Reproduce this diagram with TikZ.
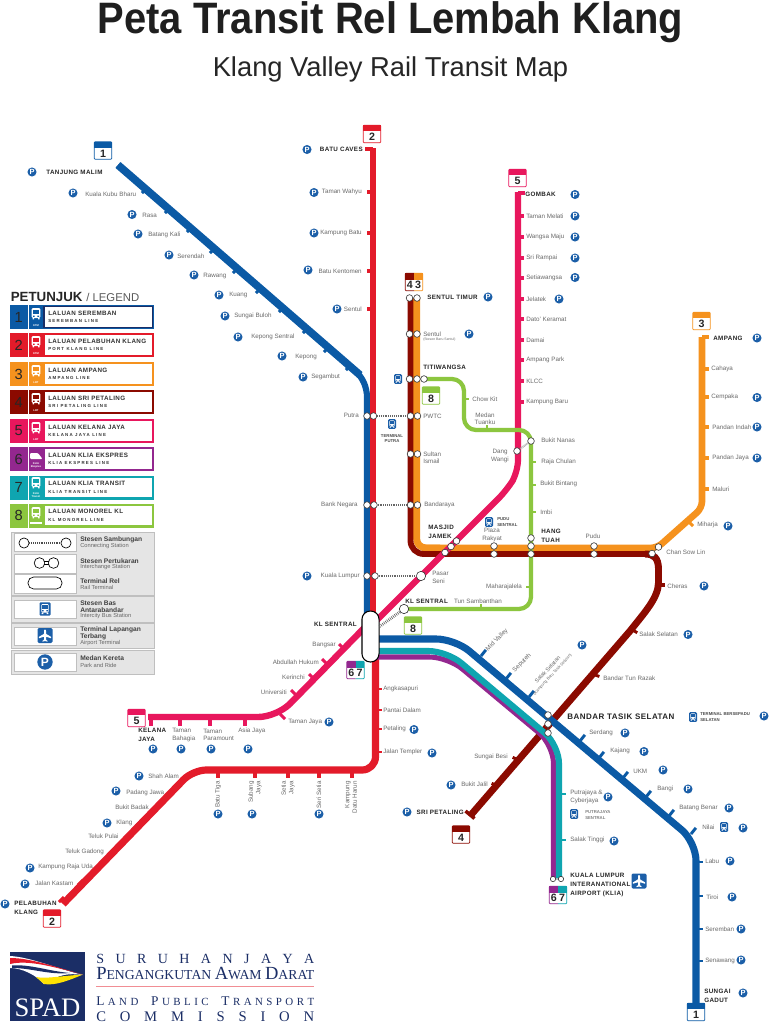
\documentclass[tikz,border=0pt]{standalone}
\usepackage{fontspec}
\setmainfont{Liberation Sans}
\newfontfamily\spc[LetterSpace=6]{Liberation Sans}
\newfontfamily\spcw[LetterSpace=28]{Liberation Sans}
\newfontfamily\logof{Liberation Serif}
\definecolor{ktm}{HTML}{0B5AA5}
\definecolor{red2}{HTML}{E31B2A}
\definecolor{pink5}{HTML}{E8175D}
\definecolor{org3}{HTML}{F5921E}
\definecolor{mar4}{HTML}{8B0A00}
\definecolor{pur6}{HTML}{93278F}
\definecolor{tea7}{HTML}{0FA5B0}
\definecolor{grn8}{HTML}{8CC63F}
\definecolor{pblue}{HTML}{1C5FA8}
\definecolor{navy}{HTML}{1B2E66}
\definecolor{stgray}{HTML}{6A6A6A}
\newcounter{nn}
\tikzset{
 stlabel/.style={inner sep=0pt,text=stgray,font=\fontsize{4.7}{5.6}\selectfont},
 boldlabel/.style={inner sep=0pt,text=black!85,font=\fontsize{4.7}{6.6}\selectfont\bfseries\spc},
 tinylabel/.style={inner sep=0pt,text=black!70,font=\fontsize{3.2}{4}\selectfont\bfseries},
 parkicon/.style={circle,fill=pblue,text=white,inner sep=0pt,minimum size=6.8pt,font=\fontsize{5.6}{5.6}\selectfont\bfseries},
 stationdot/.style={circle,draw=black!80,fill=white,line width=.45pt,inner sep=0pt,minimum size=5pt},
 bigdot/.style={stationdot,minimum size=7pt},
 smalldot/.style={stationdot,minimum size=4pt},
 linkline/.style={draw=black!70,line width=.5pt},
 dotlink/.style={draw=black!60,line width=2.2pt,dash pattern=on .5pt off .9pt},
 route/.style={line cap=butt,line join=round,rounded corners=#1},
 route/.default=8pt
}
% text helpers
\newcommand\sL[3]{\stepcounter{nn}\node[stlabel,anchor=west,align=left] (n\arabic{nn}) at (#1,#2) {#3};}
\newcommand\sR[3]{\stepcounter{nn}\node[stlabel,anchor=east,align=right] (n\arabic{nn}) at (#1,#2) {#3};}
\newcommand\sC[3]{\stepcounter{nn}\node[stlabel,align=center] (n\arabic{nn}) at (#1,#2) {#3};}
\newcommand\sV[3]{\stepcounter{nn}\node[stlabel,anchor=east,align=right,rotate=90] (n\arabic{nn}) at (#1,#2) {#3};}
\newcommand\sA[4]{\stepcounter{nn}\node[stlabel,rotate=#4,align=center] (n\arabic{nn}) at (#1,#2) {#3};}
\newcommand\bL[3]{\stepcounter{nn}\node[boldlabel,anchor=west,align=left] (n\arabic{nn}) at (#1,#2) {#3};}
\newcommand\bR[3]{\stepcounter{nn}\node[boldlabel,anchor=east,align=right] (n\arabic{nn}) at (#1,#2) {#3};}
\newcommand\pk[2]{\stepcounter{nn}\node[parkicon] (n\arabic{nn}) at (#1,#2) {P};}
\newcommand\tk[5]{\draw[#1,line width=2.2pt,shorten <=-1.1pt] (#2,#3) -- (#4,#5);}
\newcommand\busic[3]{\begin{scope}[shift={(#1,#2)},scale=#3]
 \fill[pblue,rounded corners=.8pt] (-5,-6) rectangle (5,6);
 \fill[white,rounded corners=.8pt] (-3.4,-4.4) rectangle (3.4,3.2);
 \fill[pblue] (-2.5,-3.2) rectangle (2.5,-.2);
 \fill[pblue] (-2.6,1) rectangle (-1.2,2.1) (1.2,1) rectangle (2.6,2.1);
 \fill[white] (-3,3.2) rectangle (-1.5,4.6) (1.5,3.2) rectangle (3,4.6);
 \end{scope}}
\newcommand\planeic[3]{\begin{scope}[shift={(#1,#2)},scale=#3]
 \fill[pblue,rounded corners=1pt] (-7.5,-7.5) rectangle (7.5,7.5);
 \fill[white,rounded corners=.3pt] (0,-6.3) -- (1,-5) -- (1,-1.6) -- (6.2,1.4) -- (6.2,2.8) -- (1,1.2) -- (1,4.2) -- (2.6,5.4) -- (2.6,6.2) -- (0,5.5) -- (-2.6,6.2) -- (-2.6,5.4) -- (-1,4.2) -- (-1,1.2) -- (-6.2,2.8) -- (-6.2,1.4) -- (-1,-1.6) -- (-1,-5) -- cycle;
 \end{scope}}
% single colour badge
\newcommand\badge[4]{\begin{scope}[shift={(#1,#2)}]
 \fill[white,rounded corners=.6pt] (-8.7,-8.7) rectangle (8.7,8.7);
 \fill[#3] (-8.7,-8.7) rectangle (8.7,-2.6);
 \draw[#3,line width=.6pt,rounded corners=.6pt] (-8.7,-8.7) rectangle (8.7,8.7);
 \stepcounter{nn}\node[inner sep=0pt,font=\fontsize{8}{8}\selectfont\bfseries,text=black!85] (n\arabic{nn}) at (0,3.1) {#4};
 \end{scope}}
\newcommand\twobadge[6]{\begin{scope}[shift={(#1,#2)}]
 \fill[white] (-8.7,-8.7) rectangle (8.7,8.7);
 \fill[#3] (-8.7,-8.7) rectangle (0,-2.2);
 \fill[#4] (0,-8.7) rectangle (8.7,-2.2);
 \draw[#3,line width=.6pt,rounded corners=.6pt] (0,8.7) -- (-8.7,8.7) -- (-8.7,-8.7) -- (0,-8.7);
 \draw[#4,line width=.6pt,rounded corners=.6pt] (0,8.7) -- (8.7,8.7) -- (8.7,-8.7) -- (0,-8.7);
 \stepcounter{nn}\node[inner sep=0pt,font=\fontsize{8}{8}\selectfont\bfseries,text=black!85] (n\arabic{nn}) at (-4.2,3.1) {#5};
 \stepcounter{nn}\node[inner sep=0pt,font=\fontsize{8}{8}\selectfont\bfseries,text=black!85] (n\arabic{nn}) at (4.2,3.1) {#6};
 \end{scope}}
% legend rows: y-top, colour, inner frame colour, number, title, subtitle
\newcommand\legrow[6]{\begin{scope}[shift={(0,#1)}]
 \fill[#2] (10,0) rectangle (27.6,24);
 \fill[#2] (29,0) rectangle (154.4,24);
 \fill[#3] (43.4,1) rectangle (153,23);
 \fill[white] (44.8,2.2) rectangle (151.6,21.8);
 \stepcounter{nn}\node[inner sep=0pt,font=\fontsize{11}{11}\selectfont,text=black!85] (n\arabic{nn}) at (18.8,12) {#4};
 \stepcounter{nn}\node[inner sep=0pt,anchor=west,font=\fontsize{4.7}{4.7}\selectfont\bfseries\spc,text=black!80] (n\arabic{nn}) at (48,8.2) {#5};
 \stepcounter{nn}\node[inner sep=0pt,anchor=west,font=\fontsize{3.3}{3.3}\selectfont\bfseries\spcw,text=black!80] (n\arabic{nn}) at (48,16.4) {#6};
 \end{scope}}
\newcommand\trainic[3]{\begin{scope}[shift={(#1,#2)}]
 \fill[white,rounded corners=1pt] (-4.4,-7) rectangle (4.4,3);
 \fill[#3] (-3.2,-4.8) rectangle (3.2,-1);
 \fill[#3] (-3,.6) rectangle (-1.4,1.8) (1.4,.6) rectangle (3,1.8);
 \fill[white] (-3.5,3) rectangle (-2,4.4) (2,3) rectangle (3.5,4.4);
 \end{scope}}
\newcommand\iclabel[3]{\stepcounter{nn}\node[inner sep=0pt,text=white,align=center,font=\fontsize{2}{2.2}\selectfont\bfseries] (n\arabic{nn}) at (#1,#2) {#3};}
\begin{document}
\begin{tikzpicture}[x=.75pt,y=-.75pt]
\useasboundingbox (0,0) rectangle (768,1024);
\fill[white] (0,0) rectangle (768,1024);
% title
\node[inner sep=0pt,anchor=base,text=black!88,font=\fontsize{33}{33}\selectfont\bfseries] (title) at (390.5,34) {\scalebox{.907}[1]{Peta Transit Rel Lembah Klang}};
\node[inner sep=0pt,anchor=base,text=black!85,font=\fontsize{20.5}{20.5}\selectfont] (subtitle) at (390.5,76) {Klang Valley Rail Transit Map};

% ---------- routes ----------
% KTM Seremban upper
\draw[ktm,line width=4.6pt,route=5pt] (118,165) -- (361,376) -- (367,390) -- (367,625);
\draw[ktm,line width=5.8pt] (118,165) -- (360,375);
% ticks line 1
\tk{ktm}{143}{192}{147}{188}\tk{ktm}{166}{212}{170}{208}\tk{ktm}{188}{231}{192}{227}\tk{ktm}{211}{252}{215}{248}\tk{ktm}{234}{272}{238}{268}\tk{ktm}{257}{292}{261}{288}\tk{ktm}{280}{311}{284}{307}\tk{ktm}{304}{332}{308}{328}\tk{ktm}{325}{351}{329}{347}\tk{ktm}{347}{369}{351}{365}
% Port Klang
\draw[red2,line width=5pt] (373,148) -- (373,625);
\draw[red2,line width=2.4pt] (365,149) -- (373,149);
\foreach \yy in {192,233,271,309}{\draw[red2,line width=2.4pt] (367,\yy) -- (373,\yy);}
\draw[red2,line width=5.4pt,route=10pt] (375.5,655) -- (375.5,770) -- (193,770) -- (63,904);
\foreach \yy in {689,710,729,752}{\draw[red2,line width=2pt] (375,\yy) -- (382,\yy);}
\foreach \xx in {218,255,288,319,352}{\draw[red2,line width=2.4pt] (\xx,770) -- (\xx,778);}
\tk{red2}{183}{780}{187}{776}\tk{red2}{168}{794}{172}{790}\tk{red2}{153}{809}{157}{805}\tk{red2}{137}{825}{141}{821}\tk{red2}{124}{840}{128}{836}\tk{red2}{109}{854}{113}{850}\tk{red2}{95}{869}{99}{865}\tk{red2}{79}{884}{83}{880}\tk{red2}{60}{901}{64}{897}
% Ampang
\draw[org3,line width=5pt,route=5pt] (702,337) -- (702,508) -- (657,548) -- (425,548);
\draw[org3,line width=5.2pt,route=7pt] (416.6,298) -- (416.6,548) -- (440,548);
\draw[org3,line width=2.4pt] (702,337) -- (709,337);
\foreach \yy in {369,397,427,458,489}{\draw[org3,line width=2.4pt] (702,\yy) -- (709,\yy);}
\tk{org3}{692}{525}{688}{521}
% Sri Petaling
\draw[mar4,line width=4.4pt,route=10pt] (410.5,298) -- (410.5,554) -- (650,554);
\draw[mar4,line width=5.2pt] (645,554) .. controls (654,554) and (658,558) .. (658.5,568) -- (658.5,583) .. controls (658,598) and (645,612) .. (630,631) -- (470,816);
\draw[mar4,line width=2.4pt] (658,585) -- (665,585);
\tk{mar4}{636}{632}{631}{629}\tk{mar4}{598}{676}{592}{674}\tk{mar4}{514}{758}{518}{760}\tk{mar4}{493}{784}{497}{786}
\draw[mar4,line width=2.6pt] (465.5,811) -- (474.5,818.5);
% Kelana Jaya
\draw[pink5,line width=4.6pt,route=9pt] (518,192) -- (518,472) -- (507,490) -- (375,622);
\draw[pink5,line width=4.8pt,route=14pt] (370,622) -- (277,717) -- (148,717);
\draw[pink5,line width=2.3pt] (518,193) -- (525,193);
\foreach \yy in {216,237,258,278,299,319,340,360,381,402}{\draw[pink5,line width=2.3pt] (518,\yy) -- (524,\yy);}
\foreach \xx in {151,180,210,245}{\draw[pink5,line width=2.3pt] (\xx,717) -- (\xx,726);}
\tk{pink5}{343}{648}{339}{644}\tk{pink5}{326}{663}{322}{659}\tk{pink5}{313}{678}{309}{674}\tk{pink5}{295}{694}{291}{690}\tk{pink5}{284}{718}{280}{714}
% KTM Seremban lower
\draw[ktm,line width=5.3pt,route=14pt] (375,639) -- (455,639) -- (696,842) -- (696,1003);
\tk{ktm}{485}{651}{481}{656}\tk{ktm}{510}{674}{506}{679}\tk{ktm}{533}{692}{529}{697}\tk{ktm}{584}{736}{580}{741}\tk{ktm}{603}{753}{599}{758}\tk{ktm}{627}{773}{623}{778}\tk{ktm}{650}{792}{646}{797}\tk{ktm}{673}{811}{669}{816}\tk{ktm}{695}{829}{691}{834}
\foreach \yy in {862,896,929,961}{\draw[ktm,line width=2.2pt] (696,\yy) -- (703,\yy);}
% ERL
\draw[pur6,line width=3.8pt,route=14pt] (375,657) -- (448,657) -- (553.5,745) -- (553.5,878);
\draw[tea7,line width=4.6pt,route=14pt] (375,651) -- (447,651) -- (559,745) -- (559,878);
\draw[tea7,line width=2pt] (559,794) -- (566,794) (559,840) -- (566,840);
% Monorail
\draw[grn8,line width=3.2pt,route=9pt] (424,379) -- (464,379) -- (464,430) -- (531,430) -- (531,609) -- (404,609);
\tk{grn8}{464}{399}{469}{399}\tk{grn8}{487}{430}{487}{425}\tk{grn8}{531}{462}{536}{462}\tk{grn8}{531}{485}{536}{485}\tk{grn8}{531}{512}{536}{512}\tk{grn8}{531}{587}{526}{587}\tk{grn8}{481}{609}{481}{604}
% KL Sentral
\node[draw=black,fill=white,line width=.8pt,rounded corners=6.2pt,minimum width=12.8pt,minimum height=38.2pt,inner sep=0pt] (klsentral) at (370.5,636.5) {};

% ---------- stations ----------
\foreach \nm/\xx/\yy in {st1/409.5/298,st2/417/298,se1/409.5/334,se2/417/334,ti1/409.5/379,ti2/417/379,ti3/424/379,pu1/367/416,pu2/373.5/416,pw1/410.5/416,pw2/417.5/416,su1/410.5/454,su2/417.5/454,bn1/367/505,bn2/374/505,ba1/410.5/505,ba2/417.5/505,kl1/367/576,kl2/375/576,mj1/456.5/541,mj2/451/546.5,mj3/445/552.5,pl1/494/546,pl2/494/554,ht1/531/538,ht2/531/546,ht3/531/554,pd1/594/546,pd2/594/554,cs1/658.5/547,cs2/652/553.5,bk1/531/441,dw1/517/451,bt1/548/715,bt2/548/724,bt3/548/733}{\node[stationdot] (\nm) at (\xx,\yy) {};}
\node[bigdot] (ps1) at (421,576) {};
\node[bigdot] (ks1) at (404,609) {};
\node[smalldot] (ki1) at (553,879) {};
\node[smalldot] (ki2) at (561,879) {};
\draw[dotlink] (pu2) -- (pw1);
\draw[dotlink] (bn2) -- (ba1);
\draw[dotlink] (kl2) -- (ps1);
\draw[dotlink] (klsentral.north east) ++(0,16) -- (ks1);
\draw[draw=black!35,line width=1.5pt,dash pattern=on .5pt off .6pt] (bk1) -- (dw1);
\draw[linkline] (st1) -- (st2) (se1) -- (se2) (ti1) -- (ti2) (ti2) -- (ti3) (pu1) -- (pu2) (pw1) -- (pw2) (su1) -- (su2) (bn1) -- (bn2) (ba1) -- (ba2) (kl1) -- (kl2) (mj1) -- (mj2) (mj2) -- (mj3) (pl1) -- (pl2) (ht1) -- (ht2) (ht2) -- (ht3) (pd1) -- (pd2) (cs1) -- (cs2) (bt1) -- (bt2) (bt2) -- (bt3) (ki1) -- (ki2);

% ---------- badges ----------
\badge{103}{150.5}{ktm}{1}
\badge{372}{134}{red2}{2}
\badge{517.5}{178}{pink5}{5}
\badge{701.5}{321}{org3}{3}
\twobadge{414}{282}{mar4}{org3}{4}{3}
\badge{431}{395.5}{grn8}{8}
\badge{413}{625.5}{grn8}{8}
\twobadge{355.5}{670}{pur6}{tea7}{6}{7}
\twobadge{558}{895}{pur6}{tea7}{6}{7}
\badge{461}{834.5}{mar4}{4}
\badge{136.5}{718}{pink5}{5}
\badge{52}{918.5}{red2}{2}
\badge{696}{1012}{ktm}{1}

% ---------- labels: line 1 ----------
\pk{32}{172}\bL{46}{172}{TANJUNG MALIM}
\pk{73}{193}\sL{85}{194}{Kuala Kubu Bharu}
\pk{132}{214.5}\sL{142}{215}{Rasa}
\pk{138}{234}\sL{148}{235}{Batang Kali}
\pk{169}{255}\sL{177}{256}{Serendah}
\pk{194}{275}\sL{203}{276}{Rawang}
\pk{219}{295}\sL{229}{295}{Kuang}
\pk{225}{316}\sL{234}{316}{Sungai Buloh}
\pk{238}{337}\sL{251}{337}{Kepong Sentral}
\pk{282}{356}\sL{295}{357}{Kepong}
\pk{303}{377}\sL{311}{377}{Segambut}
% line 2 upper
\pk{307}{149.5}\bR{363}{149}{BATU CAVES}
\pk{314}{192.5}\sR{362}{192}{Taman Wahyu}
\pk{314}{233}\sR{362}{233}{Kampung Batu}
\pk{308}{270}\sR{362}{271}{Batu Kentomen}
\pk{337}{309}\sR{362}{309}{Sentul}
% central
\bL{427}{297}{SENTUL TIMUR}\pk{488}{297}
\sL{423}{334}{Sentul}\stepcounter{nn}\node[inner sep=0pt,anchor=west,text=stgray,font=\fontsize{2.6}{3}\selectfont] (n\arabic{nn}) at (423,340) {(Stesen Baru Sentul)};\pk{469}{334}
\bL{423}{367}{TITIWANGSA}
\busic{398}{379}{.8}
\sL{423}{416}{PWTC}
\sL{423}{458}{Sultan\\Ismail}
\sL{424}{505}{Bandaraya}
\sR{359}{415}{Putra}
\sR{358}{505}{Bank Negara}
\sR{360}{576}{Kuala Lumpur}\pk{307}{576}
\busic{392}{424}{.8}
\stepcounter{nn}\node[tinylabel,align=center] (n\arabic{nn}) at (392,438.5) {TERMINAL\\PUTRA};
\sL{472}{399}{Chow Kit}
\sC{485}{419}{Medan\\Tuanku}
\sC{500}{456}{Dang\\Wangi}
\sL{541}{440}{Bukit Nanas}
\sL{541}{462}{Raja Chulan}
\sL{540}{484}{Bukit Bintang}
\sL{540}{512}{Imbi}
\sC{504}{587}{Maharajalela}
\sC{478}{601}{Tun Sambanthan}
\bL{405}{601}{KL SENTRAL}
\bR{357}{624}{KL SENTRAL}
\sL{432}{577.5}{Pasar\\Seni}
\bL{428}{531.5}{MASJID\\JAMEK}
\bL{541}{535.5}{HANG\\TUAH}
\sC{492}{535}{Plaza\\Rakyat}
\busic{489}{522}{.8}
\stepcounter{nn}\node[tinylabel,anchor=west,align=left] (n\arabic{nn}) at (497,522) {PUDU\\SENTRAL};
\sC{593}{536}{Pudu}
\sL{666}{552}{Chan Sow Lin}
% line 3
\bL{713}{338}{AMPANG}\pk{757}{338}
\sL{711}{369}{Cahaya}
\sL{711}{397}{Cempaka}\pk{757}{397.5}
\sL{712}{427}{Pandan Indah}\pk{757}{427}
\sL{712}{458}{Pandan Jaya}\pk{757}{458}
\sL{712}{489}{Maluri}
\sL{697}{525}{Miharja}\pk{728}{526}
% line 4
\sL{667}{586}{Cheras}\pk{704}{586}
\sL{639}{634}{Salak Selatan}\pk{688}{634.5}
\sL{603}{678}{Bandar Tun Razak}
\sR{508}{757}{Sungai Besi}
\sL{461}{784}{Bukit Jalil}\pk{451}{785}
\bR{464}{812}{SRI PETALING}\pk{407}{812}
% line 5 north
\bL{525}{194}{GOMBAK}\pk{575}{194.5}
\sL{526}{216}{Taman Melati}\pk{575}{216}
\sL{526}{237}{Wangsa Maju}\pk{575}{237}
\sL{526}{258}{Sri Rampai}\pk{575}{258}
\sL{526}{278}{Setiawangsa}\pk{575}{277.5}
\sL{526}{299}{Jelatek}\pk{559}{299}
\sL{526}{319}{Dato' Keramat}
\sL{526}{340}{Damai}
\sL{526}{360}{Ampang Park}
\sL{526}{381}{KLCC}
\sL{526}{402}{Kampung Baru}
% line 5 west
\sR{336}{645}{Bangsar}
\sR{319}{662}{Abdullah Hukum}
\sR{305}{677}{Kerinchi}
\sR{287}{692}{Universiti}
\sL{288}{722}{Taman Jaya}\pk{329}{722}
\bL{138}{735}{KELANA\\JAYA}\pk{153}{749}
\sL{172}{735}{Taman\\Bahagia}\pk{181}{749}
\sL{203}{735}{Taman\\Paramount}\pk{211}{749}
\sL{238}{731}{Asia Jaya}\pk{248}{749}
% line 2 south
\sL{383}{689}{Angkasapuri}
\sL{383}{710}{Pantai Dalam}
\sL{383}{729}{Petaling}\pk{414}{729.5}
\sL{383}{752}{Jalan Templer}\pk{432}{753}
\sV{218}{781}{Batu Tiga}\pk{218}{814}
\sV{255}{781}{Subang\\Jaya}\pk{252}{814}
\sV{288}{781}{Setia\\Jaya}
\sV{319}{781}{Seri Setia}\pk{319}{814}
\sV{351}{781}{Kampung\\Datu Harun}
\pk{139}{776}\sL{148}{776}{Shah Alam}
\pk{116}{791}\sL{126}{793}{Padang Jawa}
\sL{115}{807}{Bukit Badak}
\pk{107}{823}\sL{116}{823}{Klang}
\sL{88}{836}{Teluk Pulai}
\sL{65}{852}{Teluk Gadong}
\pk{30}{868}\sL{38}{867}{Kampung Raja Uda}
\pk{25}{884}\sL{35}{883}{Jalan Kastam}
\pk{5}{904}\bL{14}{907.5}{PELABUHAN\\KLANG}
% line 1 south
\sA{497}{640}{Mid Valley}{45}
\sA{522}{663}{Seputeh}{45}
\stepcounter{nn}\node[inner sep=0pt,rotate=47,align=center,text=stgray,font=\fontsize{4.2}{4.6}\selectfont] (n\arabic{nn}) at (550,672) {Salak Selatan\\{\fontsize{3}{3.6}\selectfont (Kampung Baru Tasik Selatan)}};
\pk{582}{645}
\stepcounter{nn}\node[inner sep=0pt,anchor=west,text=black!85,font=\fontsize{6}{6}\selectfont\bfseries\spc] (n\arabic{nn}) at (567,717) {BANDAR TASIK SELATAN};
\busic{693}{717}{.8}
\stepcounter{nn}\node[tinylabel,anchor=west,align=left] (n\arabic{nn}) at (700,717) {TERMINAL BERSEPADU\\SELATAN};
\pk{764}{716}
\sL{589}{733}{Serdang}\pk{625}{733}
\sL{610}{751}{Kajang}\pk{644}{751.5}
\sL{633}{771}{UKM}\pk{663}{770}
\sL{657}{789}{Bangi}\pk{688}{789}
\sL{679}{808}{Batang Benar}\pk{729}{808}
\sL{702}{827}{Nilai}\busic{724}{827}{.8}\pk{743}{828}
\sL{705}{861}{Labu}\pk{730}{861}
\sL{706}{897}{Tiroi}\pk{732}{897}
\sL{705}{929}{Seremban}\pk{741}{929}
\sL{705}{961}{Senawang}\pk{741}{960}
\bL{704}{996}{SUNGAI\\GADUT}\pk{743}{993}
% ERL labels
\sL{570}{797}{Putrajaya \&\\Cyberjaya}\pk{608}{797}
\busic{574}{814}{.8}
\stepcounter{nn}\node[tinylabel,anchor=west,align=left,text=black!50] (n\arabic{nn}) at (585,815) {PUTRAJAYA\\SENTRAL};
\sL{570}{840}{Salak Tinggi}\pk{614}{841}
\stepcounter{nn}\node[boldlabel,anchor=west,align=left] (n\arabic{nn}) at (570,885) {KUALA LUMPUR\\INTERANATIONAL\\AIRPORT (KLIA)};
\planeic{639}{881}{1}

% ---------- legend ----------
\node[inner sep=0pt,anchor=base west,text=black!85,font=\fontsize{10}{10}\selectfont] (legendtitle) at (10.5,301) {\textbf{PETUNJUK} {\fontsize{8.5}{8.5}\selectfont\color{black!65}/ LEGEND}};
\legrow{305}{ktm}{navy}{1}{LALUAN SEREMBAN}{SEREMBAN LINE}
\legrow{333}{red2}{red2}{2}{LALUAN PELABUHAN KLANG}{PORT KLANG LINE}
\legrow{362}{org3}{org3}{3}{LALUAN AMPANG}{AMPANG LINE}
\legrow{390}{mar4}{mar4}{4}{LALUAN SRI PETALING}{SRI PETALING LINE}
\legrow{419}{pink5}{pink5}{5}{LALUAN KELANA JAYA}{KELANA JAYA LINE}
\legrow{447}{pur6}{pur6}{6}{LALUAN KLIA EKSPRES}{KLIA EKSPRES LINE}
\legrow{475.5}{tea7}{tea7}{7}{LALUAN KLIA TRANSIT}{KLIA TRANSIT LINE}
\legrow{503.5}{grn8}{grn8}{8}{LALUAN MONOREL KL}{KL MONOREL LINE}
\trainic{36}{315}{ktm}\iclabel{36}{325.5}{KTM}
\trainic{36}{343}{red2}\iclabel{36}{353.5}{KTM}
\trainic{36}{372}{org3}\iclabel{36}{382.5}{LRT}
\trainic{36}{400}{mar4}\iclabel{36}{410.5}{LRT}
\trainic{36}{429}{pink5}\iclabel{36}{439.5}{LRT}
\fill[white,rounded corners=.8pt] (30,453) -- (38,453) -- (42.5,459) -- (30,459) -- cycle;
\iclabel{36}{465}{KLIA\\Ekspres}
\trainic{36}{484}{tea7}\iclabel{36}{495}{KLIA\\Transit}
\trainic{36}{514}{grn8}\fill[white] (30,522) rectangle (42,524);
% panels
\fill[black!10] (11,532) rectangle (154,595) (11,596) rectangle (154,622) (11,623) rectangle (154,648) (11,650) rectangle (154,674);
\draw[black!25,line width=.5pt] (11,532) rectangle (154,595) (11,596) rectangle (154,622) (11,623) rectangle (154,648) (11,650) rectangle (154,674);
\filldraw[fill=white,draw=black!25,line width=.4pt] (14,533.5) rectangle (76,551.5) (14,554) rectangle (76,573) (14,574) rectangle (76,593) (14,600) rectangle (76,618) (14,627) rectangle (76,645) (14,653) rectangle (76,671.5);
\node[circle,draw=black,fill=white,line width=.5pt,minimum size=7.6pt,inner sep=0pt] (lc1) at (24,543) {};
\node[circle,draw=black,fill=white,line width=.5pt,minimum size=7.6pt,inner sep=0pt] (lc2) at (66,543) {};
\draw[black!70,line width=1.6pt,dash pattern=on .5pt off .9pt] (lc1) -- (lc2);
\node[circle,draw=black,fill=white,line width=.5pt,minimum size=8pt,inner sep=0pt] (li1) at (39.5,563) {};
\node[circle,draw=black,fill=white,line width=.5pt,minimum size=8pt,inner sep=0pt] (li2) at (53.5,563) {};
\draw[white,line width=1.4pt] (li1) -- (li2);
\draw[black,line width=.5pt] (44,561.2) -- (49,561.2) (44,564.8) -- (49,564.8);
\node[draw=black,fill=white,line width=.5pt,rounded corners=4.2pt,minimum width=25.5pt,minimum height=9pt,inner sep=0pt] (lt) at (45,583) {};
\busic{45}{609}{1.1}
\planeic{45}{635.5}{1}
\node[parkicon,minimum size=11.5pt,font=\fontsize{9}{9}\selectfont\bfseries] (lp) at (45,662) {P};
\tikzset{legb/.style={inner sep=0pt,anchor=west,align=left,text=black!75,font=\fontsize{5}{5.6}\selectfont\bfseries},legn/.style={inner sep=0pt,anchor=west,text=black!60,font=\fontsize{4.3}{5}\selectfont}}
\node[legb] (lg1) at (80,539.5) {Stesen Sambungan};
\node[legn] (lg2) at (80,546) {Connecting Station};
\node[legb] (lg3) at (80,561) {Stesen Pertukaran};
\node[legn] (lg4) at (80,567.5) {Interchange Station};
\node[legb] (lg5) at (80,581) {Terminal Rel};
\node[legn] (lg6) at (80,587.5) {Rail Terminal};
\node[legb] (lg7) at (80,606.5) {Stesen Bas\\Antarabandar};
\node[legn] (lg8) at (80,616) {Intercity Bus Station};
\node[legb] (lg9) at (80,633.5) {Terminal Lapangan\\Terbang};
\node[legn] (lg10) at (80,643) {Airport Terminal};
\node[legb] (lg11) at (80,658.5) {Medan Kereta};
\node[legn] (lg12) at (80,665) {Park and Ride};

% ---------- logo ----------
\fill[navy] (9.5,952) rectangle (85,1021);
\fill[white] (10,956) .. controls (30,957) and (55,968) .. (83,975) .. controls (62,972) and (55,978) .. (44,984) .. controls (36,975) and (22,968) .. (10,968) -- cycle;
\fill[red2] (10,958) .. controls (30,958) and (52,966) .. (83,974.5) .. controls (60,969) and (30,959) .. (10,964) -- cycle;
\fill[navy] (12,965.5) .. controls (30,964) and (48,971) .. (70,973) .. controls (48,975) and (32,968) .. (12,968) -- cycle;
\fill[yellow!85!orange] (36,977) .. controls (46,979) and (60,976) .. (83,974.5) .. controls (70,980) and (55,986) .. (44,984) .. controls (41,982) and (39,979) .. (36,977) -- cycle;
\node[inner sep=0pt,anchor=base,text=white,font=\logof\fontsize{20}{20}\selectfont] (spad) at (47.5,1016.5) {SPAD};
\tikzset{logotxt/.style={inner sep=0pt,anchor=base west,text=navy}}
\node[logotxt,font=\logof\fontsize{10.5}{10.5}\selectfont] (l1) at (96,963) {\makebox[163.5pt][s]{S\hfill U\hfill R\hfill U\hfill H\hfill A\hfill N\hfill J\hfill A\hfill Y\hfill A}};
\node[logotxt,font=\logof] (l2) at (96,979) {\resizebox{163.5pt}{!}{\fontsize{10}{10}\selectfont P\fontsize{7.4}{8}\selectfont ENGANGKUTAN \fontsize{10}{10}\selectfont A\fontsize{7.4}{8}\selectfont WAM \fontsize{10}{10}\selectfont D\fontsize{7.4}{8}\selectfont ARAT}};
\draw[red2!50,line width=.5pt] (96,986.5) -- (314,986.5);
\node[logotxt,font=\logof\fontsize{8.2}{8.2}\selectfont] (l3) at (96,1005) {\makebox[163.5pt][s]{{\fontsize{10}{10}\selectfont L}\hfill A\hfill N\hfill D\hspace{7pt}\hfill {\fontsize{10}{10}\selectfont P}\hfill U\hfill B\hfill L\hfill I\hfill C\hspace{7pt}\hfill {\fontsize{10}{10}\selectfont T}\hfill R\hfill A\hfill N\hfill S\hfill P\hfill O\hfill R\hfill T}};
\node[logotxt,font=\logof\fontsize{11}{11}\selectfont] (l4) at (96,1021) {\makebox[163.5pt][s]{C\hfill O\hfill M\hfill M\hfill I\hfill S\hfill S\hfill I\hfill O\hfill N}};
\end{tikzpicture}
\end{document}
